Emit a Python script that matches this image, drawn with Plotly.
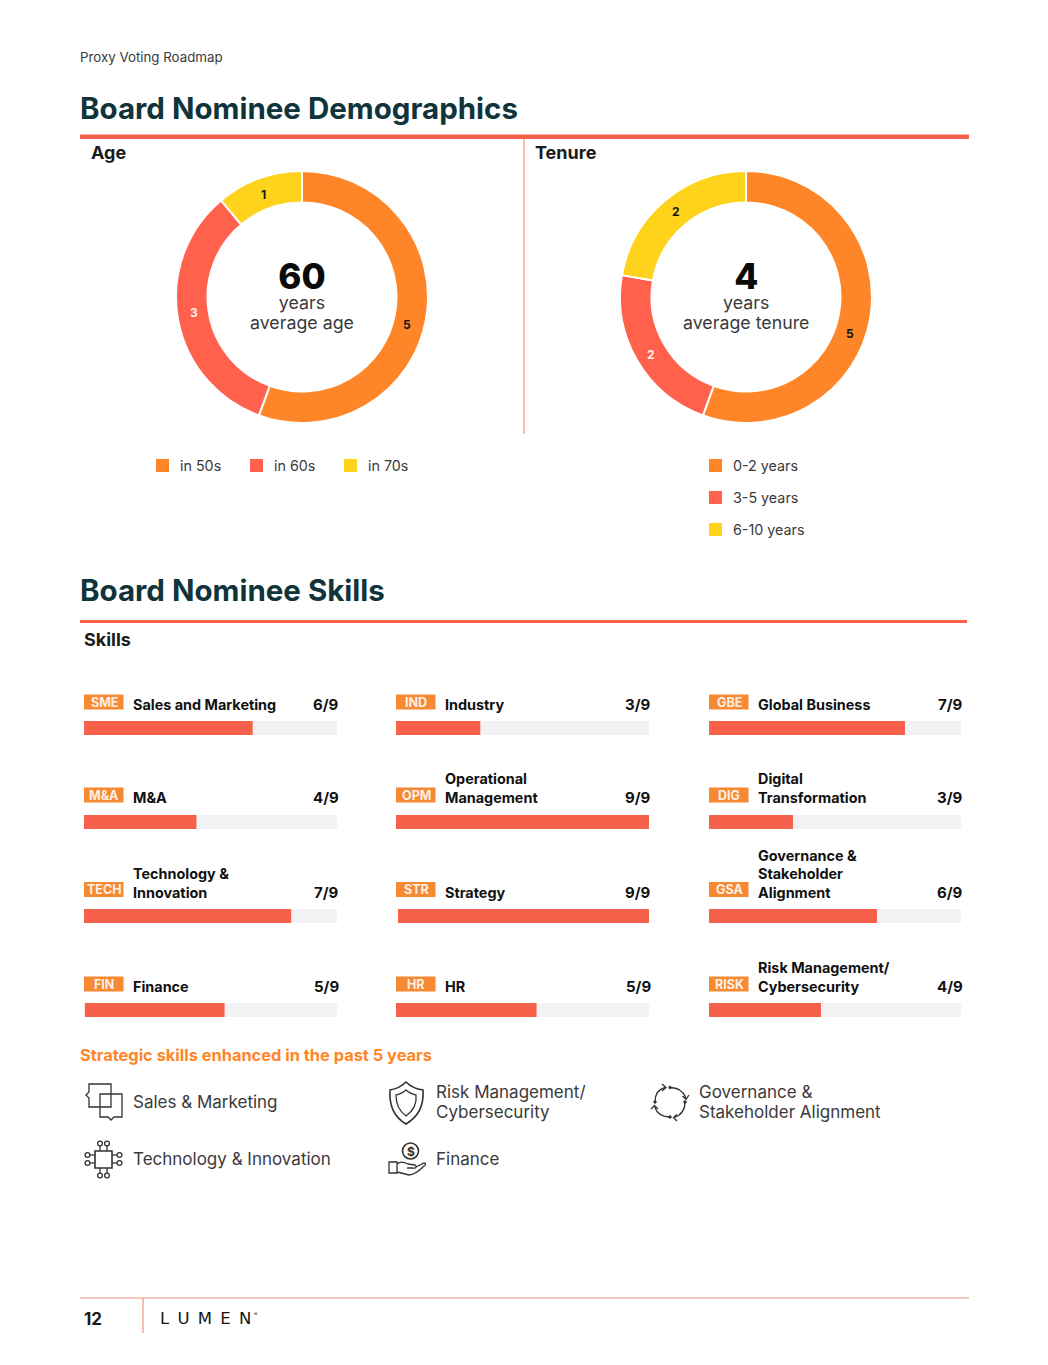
import plotly.graph_objects as go

# ---------- data ----------
AGE_LABELS = ["in 50s", "in 60s", "in 70s"]
AGE_VALUES = [5, 3, 1]
TENURE_LABELS = ["0-2 years", "3-5 years", "6-10 years"]
TENURE_VALUES = [5, 2, 2]
ROWS = ["r1", "r2", "r3", "r4"]
COL1_TAGS = ["SME", "M&A", "TECH", "FIN"]
COL1_NAMES = [["Sales and Marketing"], ["M&A"], ["Technology &", "Innovation"], ["Finance"]]
COL1_SCORES = ["6/9", "4/9", "7/9", "5/9"]
COL1_VALUES = [6, 4, 7.37, 5]
COL1_STARTS = [0, 0, 0, 0.03]
COL2_TAGS = ["IND", "OPM", "STR", "HR"]
COL2_NAMES = [["Industry"], ["Operational", "Management"], ["Strategy"], ["HR"]]
COL2_SCORES = ["3/9", "9/9", "9/9", "5/9"]
COL2_VALUES = [3, 9, 9, 5]
COL2_STARTS = [0, 0, 0.07, 0]
COL3_TAGS = ["GBE", "DIG", "GSA", "RISK"]
COL3_NAMES = [["Global Business"], ["Digital", "Transformation"],
              ["Governance &", "Stakeholder", "Alignment"], ["Risk Management/", "Cybersecurity"]]
COL3_SCORES = ["7/9", "3/9", "6/9", "4/9"]
COL3_VALUES = [7, 3, 6, 4]
COL3_STARTS = [0, 0, 0, 0]
SKILL_MAX = 9
W, H = 1048, 1365

# ---------- styles ----------
FONT = "Inter"
ORANGE, RED, YELLOW = "#FF8628", "#FF614C", "#FFD21C"
BAR = "#F7604B"; TRACK = "#F1F2F3"; TAG = "#F58A33"; RULE = "#F9604A"
TEAL = "#10343A"; DARK = "#111111"; BODY = "#3A3A3A"; ICON = "#333333"
SLICES = [ORANGE, RED, YELLOW]
SLICE_TEXT = ["#151515", "#FFF3F0", "#151515"]

fig = go.Figure()
ann, shp = [], []


def text(x, y, s, size, color=BODY, weight=400, anchor="left", family=FONT):
    ann.append(dict(x=x, y=y, xref="x4", yref="y4", text=s, showarrow=False, xanchor=anchor,
                    yanchor="middle", borderpad=0, borderwidth=0,
                    font=dict(family=family, size=size, color=color, weight=weight)))


def rect(x0, y0, x1, y1, fill):
    shp.append(dict(type="rect", xref="x4", yref="y4", x0=x0, y0=y0, x1=x1, y1=y1,
                    fillcolor=fill, line=dict(width=0), layer="above"))


def line(x0, y0, x1, y1, color, w=1.0):
    shp.append(dict(type="line", xref="x4", yref="y4", x0=x0, y0=y0, x1=x1, y1=y1,
                    line=dict(color=color, width=w), layer="above"))


def path(d, w=1.3, fill="rgba(0,0,0,0)"):
    shp.append(dict(type="path", xref="x4", yref="y4", path=d, fillcolor=fill,
                    line=dict(color=ICON, width=w), layer="above"))


def circle(cx, cy, r, w=1.3, fill="rgba(0,0,0,0)"):
    shp.append(dict(type="circle", xref="x4", yref="y4", x0=cx - r, y0=cy - r, x1=cx + r, y1=cy + r,
                    fillcolor=fill, line=dict(color=ICON, width=w), layer="above"))


# ---------- donuts ----------
for labels, values, cx in [(AGE_LABELS, AGE_VALUES, 302), (TENURE_LABELS, TENURE_VALUES, 746)]:
    fig.add_trace(go.Pie(labels=labels, values=values, hole=0.75, sort=False, direction="clockwise",
                         rotation=0, textinfo="none", hoverinfo="label+value", showlegend=False,
                         marker=dict(colors=SLICES, line=dict(color="white", width=2)),
                         domain=dict(x=[(cx - 126) / W, (cx + 126) / W], y=[1 - 423 / H, 1 - 171 / H])))

# ---------- skill bars ----------
COL_PIX = [(84, 337), (396, 649), (709, 961)]
COLS = [(COL1_TAGS, COL1_NAMES, COL1_VALUES, COL1_SCORES, COL1_STARTS),
        (COL2_TAGS, COL2_NAMES, COL2_VALUES, COL2_SCORES, COL2_STARTS),
        (COL3_TAGS, COL3_NAMES, COL3_VALUES, COL3_SCORES, COL3_STARTS)]
axis_common = dict(range=[0, SKILL_MAX], visible=False, fixedrange=True, anchor="y")
for i, ((tags, names, vals, scores, starts), (px0, px1)) in enumerate(zip(COLS, COL_PIX)):
    xa = "x" if i == 0 else f"x{i + 1}"
    fig.add_trace(go.Bar(x=[SKILL_MAX - s for s in starts], base=starts, y=ROWS, orientation="h", xaxis=xa, yaxis="y",
                         marker=dict(color=TRACK, line=dict(width=0)), width=0.149, hoverinfo="skip", showlegend=False))
    fig.add_trace(go.Bar(x=[v - s for v, s in zip(vals, starts)], base=starts, y=ROWS, orientation="h", xaxis=xa, yaxis="y",
                         text=tags, textposition="none",
                         marker=dict(color=BAR, line=dict(width=0)), width=0.149, showlegend=False))
    key = "xaxis" if i == 0 else f"xaxis{i + 1}"
    fig.layout[key] = dict(domain=[px0 / W, px1 / W], **axis_common)

fig.add_trace(go.Scatter(x=[None], y=[None], xaxis="x4", yaxis="y4", showlegend=False, hoverinfo="skip"))

# ---------- header texts ----------
text(80, 56.5, "Proxy Voting Roadmap", 13.3)
text(80, 108, "Board Nominee Demographics", 29.5, TEAL, 700)
rect(80, 134.5, 969, 139, RULE)
text(91, 152, "Age", 18, "#1A1A1A", 700)
text(535, 152, "Tenure", 18, "#1A1A1A", 700)
line(524, 139, 524, 434, "#F58B7B", 1.2)

for cx, big, sub in [(302, "60", "average age"), (746, "4", "average tenure")]:
    text(cx, 293.5, f'<span style="font-size:35px;font-weight:800;color:#0A0A0A">{big}</span><br>'
                  f'<span style="font-size:17.8px">years</span><br>'
                  f'<span style="font-size:17.8px">{sub}</span>', 15.4, BODY, 400, "center")

for vals, spots in [(AGE_VALUES, [(407, 324), (194, 312), (263, 194)]),
                    (TENURE_VALUES, [(850, 333), (651, 354), (676, 211)])]:
    for v, (x, y), c in zip(vals, spots, SLICE_TEXT):
        text(x, y, str(v), 12, c, 700, "center")

# legends
for lab, c, x in zip(AGE_LABELS, SLICES, [156, 250, 344]):
    rect(x, 459, x + 13, 472, c)
    text(x + 24, 465.5, lab, 14.3)
for lab, c, y in zip(TENURE_LABELS, SLICES, [465.5, 497.5, 529.5]):
    rect(709, y - 6.5, 722, y + 6.5, c)
    text(733, y, lab, 14.3)

# skills section
text(80, 590, "Board Nominee Skills", 29.5, TEAL, 700)
rect(80, 620, 967, 623, RULE)
text(84, 639, "Skills", 18, "#1A1A1A", 700)

TAG_Y = [702, 795, 889.5, 984]
NAME_Y = [704.5, 797, 892, 986]
for (tags, names, vals, scores, starts), (px0, px1) in zip(COLS, COL_PIX):
    for tag, nm, s, ty, ny in zip(tags, names, scores, TAG_Y, NAME_Y):
        rect(px0, ty - 7.5, px0 + 39.5, ty + 7.5, TAG)
        text(px0 + 20, ty, tag, 12.5, "#FDF0E6", 700, "center")
        for k, ln in enumerate(reversed(nm)):
            text(px0 + 49, ny - k * 18.4, ln, 14.4, DARK, 700)
        text(px1 + 2, ny, s, 15, DARK, 700, "right")

# strategic skills
text(80, 1055, "Strategic skills enhanced in the past 5 years", 16.4, ORANGE, 700)
text(133, 1101.5, "Sales &amp; Marketing", 17, BODY)
text(133, 1158.5, "Technology &amp; Innovation", 17, BODY)
text(436, 1091.5, "Risk Management/", 17, BODY)
text(436, 1112, "Cybersecurity", 17, BODY)
text(436, 1158.5, "Finance", 17, BODY)
text(699, 1091.5, "Governance &amp;", 17, BODY)
text(699, 1112, "Stakeholder Alignment", 17, BODY)

# icon: speech boxes
path("M89 1084 L111 1084 L111 1107 L89 1107 L89 1098 L86 1095 L89 1092 Z")
path("M100 1094 L122 1094 L122 1117 L114 1117 L111 1120 L108 1117 L100 1117 Z")
# icon: chip
path("M95 1151 L112 1151 L112 1168 L95 1168 Z", 1.6)
for px_ in (100, 107):
    line(px_, 1151, px_, 1146, ICON, 1.3); circle(px_, 1143.5, 2.4)
    line(px_, 1168, px_, 1173, ICON, 1.3); circle(px_, 1175.5, 2.4)
for py_ in (1155, 1163):
    line(95, py_, 90, py_, ICON, 1.3); circle(87.5, py_, 2.4)
    line(112, py_, 117, py_, ICON, 1.3); circle(119.5, py_, 2.4)
# icon: shield
path("M406 1082 C401 1087 396 1089 390 1090 C389 1105 394 1117 406 1124 C418 1117 424 1105 423 1090 C416 1089 411 1087 406 1082 Z", 1.6)
path("M406 1090 C403 1093 400 1094 396 1095 C396 1104 399 1111 406 1116 C413 1111 417 1104 416 1095 C412 1094 409 1093 406 1090 Z", 1.3)
# icon: hand and coin
circle(410.5, 1151, 8, 1.6)
ann.append(dict(x=410.5, y=1151, xref="x4", yref="y4", text="$", showarrow=False, borderwidth=0, borderpad=0,
                font=dict(family=FONT, size=12, color=ICON, weight=700)))
path("M389 1162 L397 1162 L397 1173 L389 1173 Z")
path("M397 1164 C400 1161 404 1162 408 1164 L415 1165 C417 1166 416 1169 413 1168 L407 1168")
path("M416 1167 L424 1163 C426 1163 426 1165 424 1166 C420 1170 415 1175 409 1175 L397 1172")
# icon: cycle
path("M655 1102 Q655 1090 665 1087.5")
path("M670 1087.5 Q682 1087.5 686 1098")
path("M685 1102 Q685 1114 674 1117.5")
path("M670 1117 Q658 1117 654.5 1106.5")
path("M662 1084 L666 1087.5 L662 1091")
path("M682.5 1096 L686 1099.5 L689 1095")
path("M677 1121 L673.5 1117.5 L677 1114.5")
path("M651 1109 L654.5 1105.5 L658 1109")
for cx_, cy_ in [(670, 1087.5), (685, 1102), (670, 1117), (655, 1102)]:
    circle(cx_, cy_, 1.3, 0.8, ICON)

# footer
line(80, 1298, 969, 1298, "#F0907F", 1)
line(143, 1298, 143, 1333, "#F0907F", 1.2)
text(84, 1318.5, "12", 17, "#1A1A1A", 700)
text(159.5, 1318.5, "L\u2002U\u2002M\u2002E\u2002N", 16.5, "#151515", 400, family="DejaVu Sans")
text(254, 1313.5, "®", 5, "#151515", 400)

fig.update_layout(
    width=W, height=H, margin=dict(l=0, r=0, t=0, b=0), paper_bgcolor="white", plot_bgcolor="rgba(0,0,0,0)",
    barmode="overlay", showlegend=False, annotations=ann, shapes=shp,
    yaxis=dict(domain=[1 - 1057 / H, 1 - 681 / H], range=[3.5, -0.5], type="category",
               categoryorder="array", categoryarray=ROWS, visible=False, fixedrange=True),
    xaxis4=dict(domain=[0, 1], range=[0, W], visible=False, fixedrange=True, anchor="y4"),
    yaxis4=dict(domain=[0, 1], range=[H, 0], visible=False, fixedrange=True, anchor="x4"),
)
fig.write_html("out.html", config=dict(displayModeBar=False),
               post_script="document.body.style.margin='0';")
